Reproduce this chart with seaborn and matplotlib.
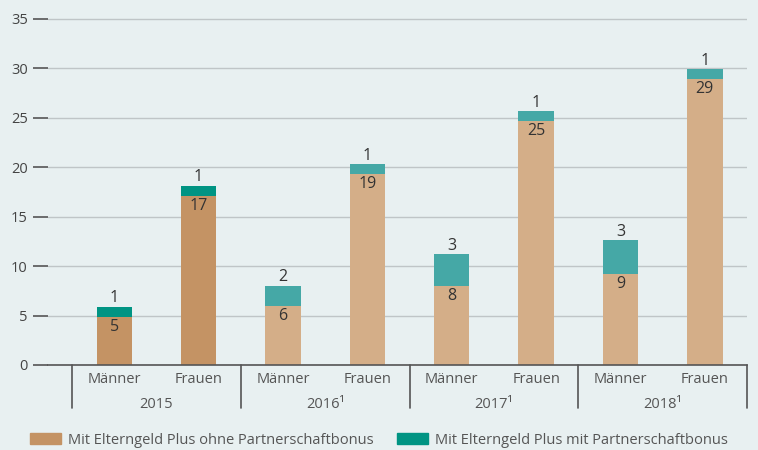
import numpy as np
import pandas as pd
import matplotlib.pyplot as plt
import matplotlib.transforms as mtransforms
from matplotlib.patches import Patch
import seaborn as sb

# Werte (in Tausend)
jahre = ["2015", "2016", "2017", "2018"]
jahr_labels = ["2015", "2016¹", "2017¹", "2018¹"]
geschlecht = ["Männer", "Frauen"]
ohne_bonus = [4.85, 17.1, 6.0, 19.3, 8.0, 24.65, 9.2, 28.9]
mit_bonus = [1.0, 1.0, 2.0, 1.0, 3.2, 1.0, 3.4, 1.0]
legende = ["Mit Elterngeld Plus ohne Partnerschaftbonus",
           "Mit Elterngeld Plus mit Partnerschaftbonus"]

bg = "#E8F0F1"
braun_dunkel, braun_hell = "#C49364", "#D4AE88"
gruen_dunkel, gruen_hell = "#009483", "#45A8A6"
grau = "#555555"

df = pd.DataFrame({
    "balken": [j + " " + g for j in jahre for g in geschlecht],
    "ohne": ohne_bonus,
    "mit": mit_bonus,
    "stufe": ["alt"] * 2 + ["neu"] * 6,
})
df["gesamt"] = df["ohne"] + df["mit"]

sb.set_style("white")
plt.rcParams["font.family"] = ["Open Sans", "DejaVu Sans"]

fig = plt.figure(figsize=(7.58, 4.5), dpi=100, facecolor=bg)
ax = fig.add_axes([48 / 758, 85 / 450, 699 / 758, 350 / 450], facecolor=bg)

# gestapelt: erst Gesamt (gruen), dann Basis (braun) darueber
sb.barplot(data=df, x="balken", y="gesamt", hue="stufe", order=df["balken"],
           palette={"alt": gruen_dunkel, "neu": gruen_hell}, dodge=False,
           width=0.42, saturation=1, errorbar=None, legend=False,
           linewidth=0, edgecolor="none", ax=ax)
sb.barplot(data=df, x="balken", y="ohne", hue="stufe", order=df["balken"],
           palette={"alt": braun_dunkel, "neu": braun_hell}, dodge=False,
           width=0.42, saturation=1, errorbar=None, legend=False,
           linewidth=0, edgecolor="none", ax=ax)

ax.set_xlim(-0.785, 7.5)
ax.set_ylim(0, 35.4)
ax.set_yticks(range(0, 36, 5))
ax.yaxis.grid(True, color="#BFC5C7", lw=1)
ax.set_axisbelow(True)
for s in ["top", "right", "left"]:
    ax.spines[s].set_visible(False)
ax.spines["bottom"].set_color(grau)
ax.spines["bottom"].set_linewidth(1.2)
ax.tick_params(axis="y", left=True, direction="out", length=10.5, width=1.2,
               color=grau, pad=4, labelsize=10.5, labelcolor="#444444")
ax.set_xticks(range(8))
ax.set_xticklabels(geschlecht * 4)
ax.tick_params(axis="x", length=0, pad=5, labelsize=10.5, labelcolor="#555555")
ax.set_xlabel("")
ax.set_ylabel("")

# Werte beschriften
for i, (o, m) in enumerate(zip(ohne_bonus, mit_bonus)):
    ax.annotate(f"{o:.0f}", (i, o), xytext=(0, -1.5), textcoords="offset points",
                ha="center", va="top", fontsize=11.5, color="#333333")
    ax.annotate(f"{m:.0f}", (i, o + m), xytext=(0, 0.5), textcoords="offset points",
                ha="center", va="bottom", fontsize=11.5, color="#333333")

# Jahresgruppen
trans = mtransforms.blended_transform_factory(ax.transData, fig.transFigure)
for x in [-0.5, 1.5, 3.5, 5.5, 7.5]:
    ax.plot([x, x], [85 / 450, 42 / 450], transform=trans, color=grau,
            lw=1.2, clip_on=False)
for k, lab in enumerate(jahr_labels):
    ax.text(2 * k + 0.5, 46 / 450, lab, transform=trans, ha="center",
            va="center", fontsize=10.5, color="#555555")

fig.legend(handles=[Patch(color=braun_dunkel), Patch(color=gruen_dunkel)],
           labels=legende, loc="center", bbox_to_anchor=(0.5, 10 / 450),
           ncol=2, frameon=False, fontsize=10.5, handlelength=2.1,
           handleheight=0.8, handletextpad=0.5, columnspacing=1.6,
           labelcolor="#555555")

fig.savefig("out.png", dpi=100, facecolor=bg)
